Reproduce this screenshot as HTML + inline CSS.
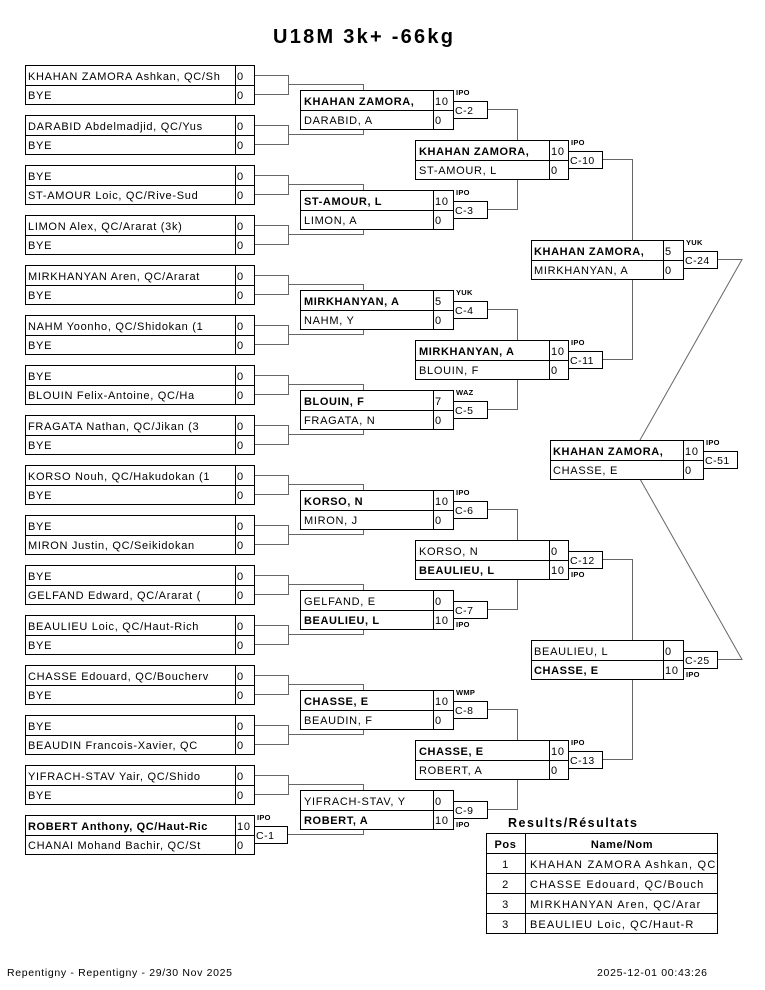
<!DOCTYPE html>
<html><head><meta charset="utf-8"><style>
html,body{margin:0;padding:0;background:#fff}
svg{display:block}
text{font-family:"Liberation Sans",Arial,sans-serif;font-size:11px;letter-spacing:0.7px;fill:#000}
.bd{font-weight:bold;letter-spacing:0.6px}
.b rect{fill:#fff;stroke:#000;stroke-width:1}
.b path{fill:none;stroke:#000;stroke-width:1}
.c{fill:#fff;stroke:#333;stroke-width:1}
.ct{font-size:10.5px;letter-spacing:0.5px}
.l{font-size:7.5px;font-weight:bold;letter-spacing:0.3px}
.con{fill:none;stroke:#666;stroke-width:1}
</style></head><body>
<svg width="765" height="990" viewBox="0 0 765 990" xmlns="http://www.w3.org/2000/svg">
<text x="363" y="43" text-anchor="middle" style="font-size:20px;font-weight:bold;letter-spacing:0" textLength="180" lengthAdjust="spacing">U18M 3k+  -66kg</text>

<!-- connectors -->
<path class="con" d="M254 75.5H288.5V94.5H254M288.5 84.5H363.5V90
M254 125.5H288.5V144.5H254M288.5 134.5H363.5V130
M254 175.5H288.5V194.5H254M288.5 184.5H363.5V190
M254 225.5H288.5V244.5H254M288.5 234.5H363.5V230
M254 275.5H288.5V294.5H254M288.5 284.5H363.5V290
M254 325.5H288.5V344.5H254M288.5 334.5H363.5V330
M254 375.5H288.5V394.5H254M288.5 384.5H363.5V390
M254 425.5H288.5V444.5H254M288.5 434.5H363.5V430
M254 475.5H288.5V494.5H254M288.5 484.5H363.5V490
M254 525.5H288.5V544.5H254M288.5 534.5H363.5V530
M254 575.5H288.5V594.5H254M288.5 584.5H363.5V590
M254 625.5H288.5V644.5H254M288.5 634.5H363.5V630
M254 675.5H288.5V694.5H254M288.5 684.5H363.5V690
M254 725.5H288.5V744.5H254M288.5 734.5H363.5V730
M254 775.5H288.5V794.5H254M288.5 784.5H363.5V790
M287 834.5H363.5V830
M487 109.5H517.5V140M487 209.5H517.5V180
M487 309.5H517.5V340M487 409.5H517.5V380
M487 509.5H517.5V540M487 609.5H517.5V580
M487 709.5H517.5V740M487 809.5H517.5V780
M602 159.5H632.5V240M602 359.5H632.5V280
M602 559.5H632.5V640M602 759.5H632.5V680
M717 259.5H742L640 440M717 659.5H742L640 479"/>

<!-- Round 1 -->
<g class="b" transform="translate(25,65)"><rect x=".5" y=".5" width="229" height="39"/><path d="M0 20.5H229M210.5 0V40"/><text x="3" y="15">KHAHAN ZAMORA Ashkan, QC/Sh</text><text x="212" y="15">0</text><text x="3" y="34">BYE</text><text x="212" y="34">0</text></g>
<g class="b" transform="translate(25,115)"><rect x=".5" y=".5" width="229" height="39"/><path d="M0 20.5H229M210.5 0V40"/><text x="3" y="15">DARABID Abdelmadjid, QC/Yus</text><text x="212" y="15">0</text><text x="3" y="34">BYE</text><text x="212" y="34">0</text></g>
<g class="b" transform="translate(25,165)"><rect x=".5" y=".5" width="229" height="39"/><path d="M0 20.5H229M210.5 0V40"/><text x="3" y="15">BYE</text><text x="212" y="15">0</text><text x="3" y="34">ST-AMOUR Loic, QC/Rive-Sud</text><text x="212" y="34">0</text></g>
<g class="b" transform="translate(25,215)"><rect x=".5" y=".5" width="229" height="39"/><path d="M0 20.5H229M210.5 0V40"/><text x="3" y="15">LIMON Alex, QC/Ararat (3k)</text><text x="212" y="15">0</text><text x="3" y="34">BYE</text><text x="212" y="34">0</text></g>
<g class="b" transform="translate(25,265)"><rect x=".5" y=".5" width="229" height="39"/><path d="M0 20.5H229M210.5 0V40"/><text x="3" y="15">MIRKHANYAN Aren, QC/Ararat</text><text x="212" y="15">0</text><text x="3" y="34">BYE</text><text x="212" y="34">0</text></g>
<g class="b" transform="translate(25,315)"><rect x=".5" y=".5" width="229" height="39"/><path d="M0 20.5H229M210.5 0V40"/><text x="3" y="15">NAHM Yoonho, QC/Shidokan (1</text><text x="212" y="15">0</text><text x="3" y="34">BYE</text><text x="212" y="34">0</text></g>
<g class="b" transform="translate(25,365)"><rect x=".5" y=".5" width="229" height="39"/><path d="M0 20.5H229M210.5 0V40"/><text x="3" y="15">BYE</text><text x="212" y="15">0</text><text x="3" y="34">BLOUIN Felix-Antoine, QC/Ha</text><text x="212" y="34">0</text></g>
<g class="b" transform="translate(25,415)"><rect x=".5" y=".5" width="229" height="39"/><path d="M0 20.5H229M210.5 0V40"/><text x="3" y="15">FRAGATA Nathan, QC/Jikan (3</text><text x="212" y="15">0</text><text x="3" y="34">BYE</text><text x="212" y="34">0</text></g>
<g class="b" transform="translate(25,465)"><rect x=".5" y=".5" width="229" height="39"/><path d="M0 20.5H229M210.5 0V40"/><text x="3" y="15">KORSO Nouh, QC/Hakudokan (1</text><text x="212" y="15">0</text><text x="3" y="34">BYE</text><text x="212" y="34">0</text></g>
<g class="b" transform="translate(25,515)"><rect x=".5" y=".5" width="229" height="39"/><path d="M0 20.5H229M210.5 0V40"/><text x="3" y="15">BYE</text><text x="212" y="15">0</text><text x="3" y="34">MIRON Justin, QC/Seikidokan</text><text x="212" y="34">0</text></g>
<g class="b" transform="translate(25,565)"><rect x=".5" y=".5" width="229" height="39"/><path d="M0 20.5H229M210.5 0V40"/><text x="3" y="15">BYE</text><text x="212" y="15">0</text><text x="3" y="34">GELFAND Edward, QC/Ararat (</text><text x="212" y="34">0</text></g>
<g class="b" transform="translate(25,615)"><rect x=".5" y=".5" width="229" height="39"/><path d="M0 20.5H229M210.5 0V40"/><text x="3" y="15">BEAULIEU Loic, QC/Haut-Rich</text><text x="212" y="15">0</text><text x="3" y="34">BYE</text><text x="212" y="34">0</text></g>
<g class="b" transform="translate(25,665)"><rect x=".5" y=".5" width="229" height="39"/><path d="M0 20.5H229M210.5 0V40"/><text x="3" y="15">CHASSE Edouard, QC/Boucherv</text><text x="212" y="15">0</text><text x="3" y="34">BYE</text><text x="212" y="34">0</text></g>
<g class="b" transform="translate(25,715)"><rect x=".5" y=".5" width="229" height="39"/><path d="M0 20.5H229M210.5 0V40"/><text x="3" y="15">BYE</text><text x="212" y="15">0</text><text x="3" y="34">BEAUDIN Francois-Xavier, QC</text><text x="212" y="34">0</text></g>
<g class="b" transform="translate(25,765)"><rect x=".5" y=".5" width="229" height="39"/><path d="M0 20.5H229M210.5 0V40"/><text x="3" y="15">YIFRACH-STAV Yair, QC/Shido</text><text x="212" y="15">0</text><text x="3" y="34">BYE</text><text x="212" y="34">0</text></g>
<g class="b" transform="translate(25,815)"><rect x=".5" y=".5" width="229" height="39"/><path d="M0 20.5H229M210.5 0V40"/><text class="bd" x="3" y="15">ROBERT Anthony, QC/Haut-Ric</text><text x="212" y="15">10</text><text x="3" y="34">CHANAI Mohand Bachir, QC/St</text><text x="212" y="34">0</text>
<rect class="c" x="229.5" y="11.5" width="33" height="17"/><text class="ct" x="231" y="24">C-1</text><text class="l" x="232" y="5">IPO</text></g>

<!-- Round 2 -->
<g class="b" transform="translate(300,90)"><rect x=".5" y=".5" width="153" height="39"/><path d="M0 20.5H153M133.5 0V40"/><text class="bd" x="4" y="15">KHAHAN ZAMORA,</text><text x="135" y="15">10</text><text x="4" y="34">DARABID, A</text><text x="135" y="34">0</text>
<rect class="c" x="153.5" y="11.5" width="34" height="17"/><text class="ct" x="155" y="24">C-2</text><text class="l" x="156" y="5">IPO</text></g>
<g class="b" transform="translate(300,190)"><rect x=".5" y=".5" width="153" height="39"/><path d="M0 20.5H153M133.5 0V40"/><text class="bd" x="4" y="15">ST-AMOUR, L</text><text x="135" y="15">10</text><text x="4" y="34">LIMON, A</text><text x="135" y="34">0</text>
<rect class="c" x="153.5" y="11.5" width="34" height="17"/><text class="ct" x="155" y="24">C-3</text><text class="l" x="156" y="5">IPO</text></g>
<g class="b" transform="translate(300,290)"><rect x=".5" y=".5" width="153" height="39"/><path d="M0 20.5H153M133.5 0V40"/><text class="bd" x="4" y="15">MIRKHANYAN, A</text><text x="135" y="15">5</text><text x="4" y="34">NAHM, Y</text><text x="135" y="34">0</text>
<rect class="c" x="153.5" y="11.5" width="34" height="17"/><text class="ct" x="155" y="24">C-4</text><text class="l" x="156" y="5">YUK</text></g>
<g class="b" transform="translate(300,390)"><rect x=".5" y=".5" width="153" height="39"/><path d="M0 20.5H153M133.5 0V40"/><text class="bd" x="4" y="15">BLOUIN, F</text><text x="135" y="15">7</text><text x="4" y="34">FRAGATA, N</text><text x="135" y="34">0</text>
<rect class="c" x="153.5" y="11.5" width="34" height="17"/><text class="ct" x="155" y="24">C-5</text><text class="l" x="156" y="5">WAZ</text></g>
<g class="b" transform="translate(300,490)"><rect x=".5" y=".5" width="153" height="39"/><path d="M0 20.5H153M133.5 0V40"/><text class="bd" x="4" y="15">KORSO, N</text><text x="135" y="15">10</text><text x="4" y="34">MIRON, J</text><text x="135" y="34">0</text>
<rect class="c" x="153.5" y="11.5" width="34" height="17"/><text class="ct" x="155" y="24">C-6</text><text class="l" x="156" y="5">IPO</text></g>
<g class="b" transform="translate(300,590)"><rect x=".5" y=".5" width="153" height="39"/><path d="M0 20.5H153M133.5 0V40"/><text x="4" y="15">GELFAND, E</text><text x="135" y="15">0</text><text class="bd" x="4" y="34">BEAULIEU, L</text><text x="135" y="34">10</text>
<rect class="c" x="153.5" y="11.5" width="34" height="17"/><text class="ct" x="155" y="24">C-7</text><text class="l" x="156" y="37">IPO</text></g>
<g class="b" transform="translate(300,690)"><rect x=".5" y=".5" width="153" height="39"/><path d="M0 20.5H153M133.5 0V40"/><text class="bd" x="4" y="15">CHASSE, E</text><text x="135" y="15">10</text><text x="4" y="34">BEAUDIN, F</text><text x="135" y="34">0</text>
<rect class="c" x="153.5" y="11.5" width="34" height="17"/><text class="ct" x="155" y="24">C-8</text><text class="l" x="156" y="5">WMP</text></g>
<g class="b" transform="translate(300,790)"><rect x=".5" y=".5" width="153" height="39"/><path d="M0 20.5H153M133.5 0V40"/><text x="4" y="15">YIFRACH-STAV, Y</text><text x="135" y="15">0</text><text class="bd" x="4" y="34">ROBERT, A</text><text x="135" y="34">10</text>
<rect class="c" x="153.5" y="11.5" width="34" height="17"/><text class="ct" x="155" y="24">C-9</text><text class="l" x="156" y="37">IPO</text></g>

<!-- Round 3 -->
<g class="b" transform="translate(415,140)"><rect x=".5" y=".5" width="153" height="39"/><path d="M0 20.5H153M134.5 0V40"/><text class="bd" x="4" y="15">KHAHAN ZAMORA,</text><text x="136" y="15">10</text><text x="4" y="34">ST-AMOUR, L</text><text x="136" y="34">0</text>
<rect class="c" x="153.5" y="11.5" width="34" height="17"/><text class="ct" x="155" y="24">C-10</text><text class="l" x="156" y="5">IPO</text></g>
<g class="b" transform="translate(415,340)"><rect x=".5" y=".5" width="153" height="39"/><path d="M0 20.5H153M134.5 0V40"/><text class="bd" x="4" y="15">MIRKHANYAN, A</text><text x="136" y="15">10</text><text x="4" y="34">BLOUIN, F</text><text x="136" y="34">0</text>
<rect class="c" x="153.5" y="11.5" width="34" height="17"/><text class="ct" x="155" y="24">C-11</text><text class="l" x="156" y="5">IPO</text></g>
<g class="b" transform="translate(415,540)"><rect x=".5" y=".5" width="153" height="39"/><path d="M0 20.5H153M134.5 0V40"/><text x="4" y="15">KORSO, N</text><text x="136" y="15">0</text><text class="bd" x="4" y="34">BEAULIEU, L</text><text x="136" y="34">10</text>
<rect class="c" x="153.5" y="11.5" width="34" height="17"/><text class="ct" x="155" y="24">C-12</text><text class="l" x="156" y="37">IPO</text></g>
<g class="b" transform="translate(415,740)"><rect x=".5" y=".5" width="153" height="39"/><path d="M0 20.5H153M134.5 0V40"/><text class="bd" x="4" y="15">CHASSE, E</text><text x="136" y="15">10</text><text x="4" y="34">ROBERT, A</text><text x="136" y="34">0</text>
<rect class="c" x="153.5" y="11.5" width="34" height="17"/><text class="ct" x="155" y="24">C-13</text><text class="l" x="156" y="5">IPO</text></g>

<!-- Round 4 -->
<g class="b" transform="translate(531,240)"><rect x=".5" y=".5" width="152" height="39"/><path d="M0 20.5H152M132.5 0V40"/><text class="bd" x="3" y="15">KHAHAN ZAMORA,</text><text x="134" y="15">5</text><text x="3" y="34">MIRKHANYAN, A</text><text x="134" y="34">0</text>
<rect class="c" x="152.5" y="11.5" width="34" height="17"/><text class="ct" x="154" y="24">C-24</text><text class="l" x="155" y="5">YUK</text></g>
<g class="b" transform="translate(531,640)"><rect x=".5" y=".5" width="152" height="39"/><path d="M0 20.5H152M132.5 0V40"/><text x="3" y="15">BEAULIEU, L</text><text x="134" y="15">0</text><text class="bd" x="3" y="34">CHASSE, E</text><text x="134" y="34">10</text>
<rect class="c" x="152.5" y="11.5" width="34" height="17"/><text class="ct" x="154" y="24">C-25</text><text class="l" x="155" y="37">IPO</text></g>

<!-- Final -->
<g class="b" transform="translate(550,440)"><rect x=".5" y=".5" width="153" height="39"/><path d="M0 20.5H153M133.5 0V40"/><text class="bd" x="3" y="15">KHAHAN ZAMORA,</text><text x="135" y="15">10</text><text x="3" y="34">CHASSE, E</text><text x="135" y="34">0</text>
<rect class="c" x="153.5" y="11.5" width="34" height="17"/><text class="ct" x="155" y="24">C-51</text><text class="l" x="156" y="5">IPO</text></g>

<!-- Results -->
<text x="508" y="827" style="font-size:12.5px;font-weight:bold;letter-spacing:0" textLength="129" lengthAdjust="spacing">Results/Résultats</text>
<g class="b">
<rect x="486.5" y="833.5" width="231" height="100"/>
<path d="M486 853.5H718M486 873.5H718M486 893.5H718M486 913.5H718M525.5 833V934"/>
</g>
<text x="505.5" y="848" text-anchor="middle" class="bd">Pos</text>
<text x="622" y="848" text-anchor="middle" class="bd">Name/Nom</text>
<text x="505.5" y="868" text-anchor="middle">1</text>
<text x="505.5" y="888" text-anchor="middle">2</text>
<text x="505.5" y="908" text-anchor="middle">3</text>
<text x="505.5" y="928" text-anchor="middle">3</text>
<text x="530" y="868" textLength="186" lengthAdjust="spacing">KHAHAN ZAMORA Ashkan, QC</text>
<text x="530" y="888" textLength="174" lengthAdjust="spacing">CHASSE Edouard, QC/Bouch</text>
<text x="530" y="908" textLength="171" lengthAdjust="spacing">MIRKHANYAN Aren, QC/Arar</text>
<text x="530" y="928" textLength="164" lengthAdjust="spacing">BEAULIEU Loic, QC/Haut-R</text>

<!-- Footer -->
<text x="7" y="976" style="font-size:10.5px;letter-spacing:0" textLength="225" lengthAdjust="spacing">Repentigny - Repentigny - 29/30 Nov 2025</text>
<text x="597" y="976" style="font-size:10.5px;letter-spacing:0" textLength="110" lengthAdjust="spacing">2025-12-01 00:43:26</text>
</svg>
</body></html>
